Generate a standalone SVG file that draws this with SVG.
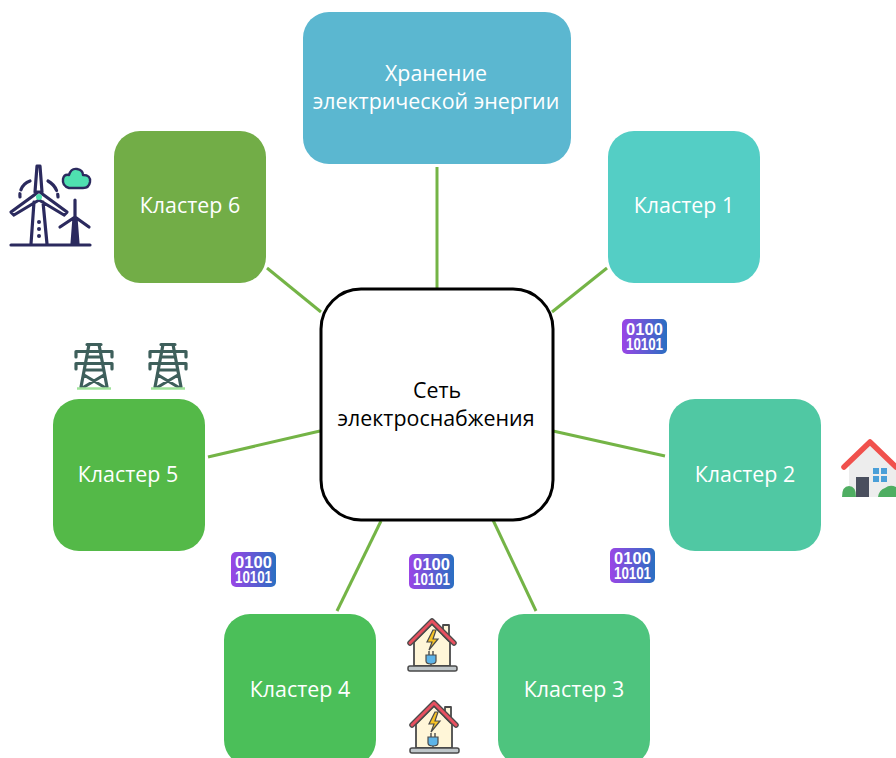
<svg xmlns="http://www.w3.org/2000/svg" width="896" height="758" viewBox="0 0 896 758">
<style>
.box{stroke:none}
.t{font-family:"Open Sans","Noto Sans","Liberation Sans",sans-serif;font-size:21.4px;text-anchor:middle;fill:#fff}
.d{fill:#000}
.con line{stroke:#74B446;stroke-width:3;fill:none}
.bin{font-family:"Liberation Sans",Arial,sans-serif;font-weight:700;font-size:16.5px;fill:#fff;text-anchor:middle}
.wt{stroke:#2B2A5E;stroke-width:3.2;stroke-linecap:round;stroke-linejoin:round;fill:none}
.tw{stroke:#3E5F5B;stroke-width:3.2;stroke-linecap:round;fill:none}
.hs{stroke:#4A4A4A;stroke-width:1.8;stroke-linejoin:round}
</style>
<defs>
<linearGradient id="g" x1="0" x2="1" y1="0" y2="0"><stop offset="0" stop-color="#9A45E6"/><stop offset="1" stop-color="#2A6FC2"/></linearGradient>
<g id="binary">
<rect x="0" y="0" width="45" height="35" rx="5" fill="url(#g)"/>
<text class="bin" x="22.500" y="16" textLength="37" lengthAdjust="spacing">0100</text>
<text class="bin" x="22.500" y="31" textLength="37" lengthAdjust="spacingAndGlyphs">10101</text>
</g>
<g id="pylon">
<path class="tw" d="M13 1.500H27M2 8.500H38M2 20.500H38M2 8.500V14M38 8.500V14M2 20.500V26M38 20.500V26M15 1.500L7 44M25 1.500L33 44M13 14H27M11 27H29M10 32L30 44M30 32L10 44"/>
<path d="M3 45.500H37" stroke="#9FE39A" stroke-width="2.500"/>
</g>
<g id="plughouse">
<path d="M7 26L25 8L43 26V50H7Z" fill="#FFF6D8" class="hs"/>
<path d="M36 19V9H42V25Z" fill="#FFF6D8" class="hs"/>
<path d="M3 27L25 5L47 27" fill="none" stroke="#4A4A4A" stroke-width="5.500" stroke-linejoin="round" stroke-linecap="round"/>
<path d="M3 27L25 5L47 27" fill="none" stroke="#E8505F" stroke-width="3" stroke-linejoin="round" stroke-linecap="round"/>
<path d="M26 14L20 26H25L22 34L31 23H26L29 14Z" fill="#F7C325" stroke="#4A4A4A" stroke-width="1.200"/>
<path d="M19 39H29V45Q29 48 24 48Q19 48 19 45Z" fill="#5DB4E8" stroke="#4A4A4A" stroke-width="1.200"/>
<path d="M22 39V35M26 39V35M24 48V51" stroke="#4A4A4A" stroke-width="1.400"/>
<rect x="1" y="50" width="49" height="5" rx="2" fill="#BFC6C9" stroke="#4A4A4A" stroke-width="1.500"/>
</g>
</defs>
<rect width="896" height="758" fill="#fff"/>
<g id="connectors" class="con">
<line x1="437" y1="167" x2="437" y2="288"/>
<line x1="607" y1="268" x2="552" y2="312"/>
<line x1="665" y1="456" x2="553" y2="431"/>
<line x1="536" y1="611" x2="493" y2="520"/>
<line x1="337" y1="611" x2="381" y2="521"/>
<line x1="208" y1="457" x2="320" y2="431"/>
<line x1="267" y1="268" x2="321" y2="312"/>
</g>
<g id="storage"><rect class="box" x="303" y="12" width="268" height="152" rx="26" fill="#5BB7D0"/>
<text class="t" x="436" y="81">Хранение</text><text class="t" x="436" y="109">электрической энергии</text></g>
<g id="cluster1"><rect class="box" x="608" y="131" width="152" height="152" rx="26" fill="#54CEC5"/><text class="t" x="684" y="213">Кластер 1</text></g>
<g id="cluster2"><rect class="box" x="669" y="399" width="152" height="152" rx="26" fill="#50C8A3"/><text class="t" x="745" y="482">Кластер 2</text></g>
<g id="cluster3"><rect class="box" x="498" y="614" width="152" height="152" rx="26" fill="#4EC47E"/><text class="t" x="574" y="697">Кластер 3</text></g>
<g id="cluster4"><rect class="box" x="224" y="614" width="152" height="152" rx="26" fill="#4BBF59"/><text class="t" x="300" y="697">Кластер 4</text></g>
<g id="cluster5"><rect class="box" x="53" y="399" width="152" height="152" rx="26" fill="#54B948"/><text class="t" x="128" y="482">Кластер 5</text></g>
<g id="cluster6"><rect class="box" x="114" y="131" width="152" height="152" rx="26" fill="#72AD47"/><text class="t" x="190" y="213">Кластер 6</text></g>
<g id="grid"><rect x="321" y="289" width="232" height="231" rx="40" fill="#fff" stroke="#000" stroke-width="3"/>
<text class="t d" x="437" y="398">Сеть</text><text class="t d" x="436" y="426">электроснабжения</text></g>
<g id="icon-binary-1"><use href="#binary" x="622" y="319"/></g>
<g id="icon-binary-2"><use href="#binary" x="610" y="548"/></g>
<g id="icon-binary-3"><use href="#binary" x="409" y="554"/></g>
<g id="icon-binary-4"><use href="#binary" x="231" y="552"/></g>
<g id="icon-pylon-1"><use href="#pylon" x="74" y="343"/></g>
<g id="icon-pylon-2"><use href="#pylon" x="148" y="343"/></g>
<g id="icon-plughouse-1"><use href="#plughouse" x="407" y="616"/></g>
<g id="icon-plughouse-2"><use href="#plughouse" x="409" y="698"/></g>
<g id="icon-wind">
<path class="wt" d="M11 245H90M37 166H40L42 192H35ZM34 202L31 244M43 202L47 244M37 193L11 212L14 215L39 200M41 193L67 212L64 215L39 200M75 200V244M72 244L74 218M78 244L76 218M75 217L89 227M75 217L60 227"/>
<path class="wt" d="M30 181A15 15 0 0 0 20 197M48 181A19 19 0 0 1 58 197" stroke-dasharray="13 4"/>
<circle cx="39" cy="197" r="3" fill="#4FE0B0"/>
<g fill="#2B2A5E"><circle cx="39" cy="222" r="2"/><circle cx="39" cy="229" r="2"/><circle cx="39" cy="236" r="2"/></g>
<path d="M69 188Q62 186 63 179Q64 174 69 175Q71 168 77 169Q83 170 83 175Q91 175 90 182Q89 188 83 188Z" fill="#4FE0B0" stroke="#2B2A5E" stroke-width="2.400" stroke-linejoin="round"/>
</g>
<g id="icon-house">
<path d="M869 444L849 466V497H896V466Z" fill="#EDEDED"/>
<rect x="856" y="477" width="13" height="20" fill="#4A4F5E"/>
<g fill="#4A9FD8"><rect x="873" y="468" width="6" height="6"/><rect x="881" y="468" width="6" height="6"/><rect x="873" y="476" width="6" height="6"/><rect x="881" y="476" width="6" height="6"/></g>
<path d="M844 467L870 442L896 467" fill="none" stroke="#F0514D" stroke-width="5.500" stroke-linecap="round" stroke-linejoin="round"/>
<path d="M842 497Q842 486 849 486Q856 486 856 497Z" fill="#4FAE62"/>
<path d="M878 497Q879 490 885 488Q890 484 896 487V497Z" fill="#4FAE62"/>
</g>
</svg>
